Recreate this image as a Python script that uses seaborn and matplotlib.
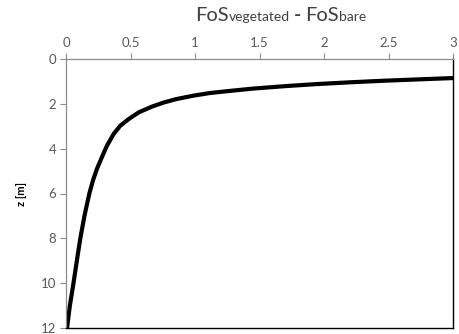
import matplotlib
matplotlib.use("Agg")
import matplotlib.pyplot as plt
import seaborn as sns

# Depth profile of the safety-factor gain from vegetation
fos_diff = [0.008, 0.030, 0.058, 0.084, 0.111, 0.143, 0.181, 0.210, 0.240, 0.279,
            0.318, 0.370, 0.420, 0.486, 0.564, 0.668, 0.758, 0.854, 0.983, 1.113,
            1.242, 1.45, 1.70, 1.94, 2.20, 2.46, 2.73, 3.0]
depth_m = [12.0, 11.0, 10.0, 9.0, 8.0, 7.0, 6.0, 5.4, 4.9, 4.37,
           3.86, 3.34, 2.98, 2.68, 2.38, 2.12, 1.94, 1.79, 1.64, 1.52,
           1.44, 1.32, 1.21, 1.12, 1.04, 0.97, 0.91, 0.85]

x_ticks = [0, 0.5, 1, 1.5, 2, 2.5, 3]
x_tick_labels = ["0", "0.5", "1", "1.5", "2", "2.5", "3"]
y_ticks = [0, 2, 4, 6, 8, 10, 12]
y_tick_labels = ["0", "2", "4", "6", "8", "10", "12"]

sns.set_theme(style="white")
plt.rcParams["font.family"] = ["Lato", "DejaVu Sans"]

fig = plt.figure(figsize=(4.59, 3.34), dpi=100)
ax = fig.add_axes([66 / 459, 1 - 328 / 334, (453 - 66) / 459, (328 - 59) / 334])

sns.lineplot(x=fos_diff, y=depth_m, sort=False, color="black", linewidth=3,
             ax=ax, solid_capstyle="butt", solid_joinstyle="round")

ax.set_xlim(0, 3)
ax.set_ylim(12, 0)
ax.xaxis.tick_top()
ax.set_xticks(x_ticks)
ax.set_xticklabels(x_tick_labels)
ax.set_yticks(y_ticks)
ax.set_yticklabels(y_tick_labels)

grey = "#8c8c8c"
label_col = "#595959"
ax.tick_params(axis="both", direction="out", length=4, width=0.8, color=grey,
               labelcolor=label_col, labelsize=9.5, pad=3)
ax.tick_params(axis="x", top=True, bottom=False)
ax.tick_params(axis="y", left=True, right=False)
for side in ("top", "left"):
    ax.spines[side].set_color(grey)
    ax.spines[side].set_linewidth(0.9)
for side in ("bottom", "right"):
    ax.spines[side].set_color("black")
    ax.spines[side].set_linewidth(1.0)

ax.set_xlabel("")
ax.set_ylabel("z [m]", fontsize=8, fontweight="bold", color="black", labelpad=10)

# Axis title built from pieces of different size sharing one baseline
# (text, font size, weight, gap in px after the piece)
pieces = [("FoS", 14.5, "normal", 0), ("vegetated", 10, "normal", 4),
          ("-", 14, "bold", 4), ("FoS", 14.5, "normal", 0), ("bare", 10, "normal", 0)]
renderer = fig.canvas.get_renderer()
x_px = 195
base_y = 1 - 21 / 334
title_col = "#404040"
for txt, size, weight, gap in pieces:
    t = fig.text(x_px / 459, base_y, txt, fontsize=size, fontweight=weight,
                 color=title_col, ha="left", va="baseline")
    x_px += t.get_window_extent(renderer).width + gap

fig.savefig("out.png", dpi=100)
